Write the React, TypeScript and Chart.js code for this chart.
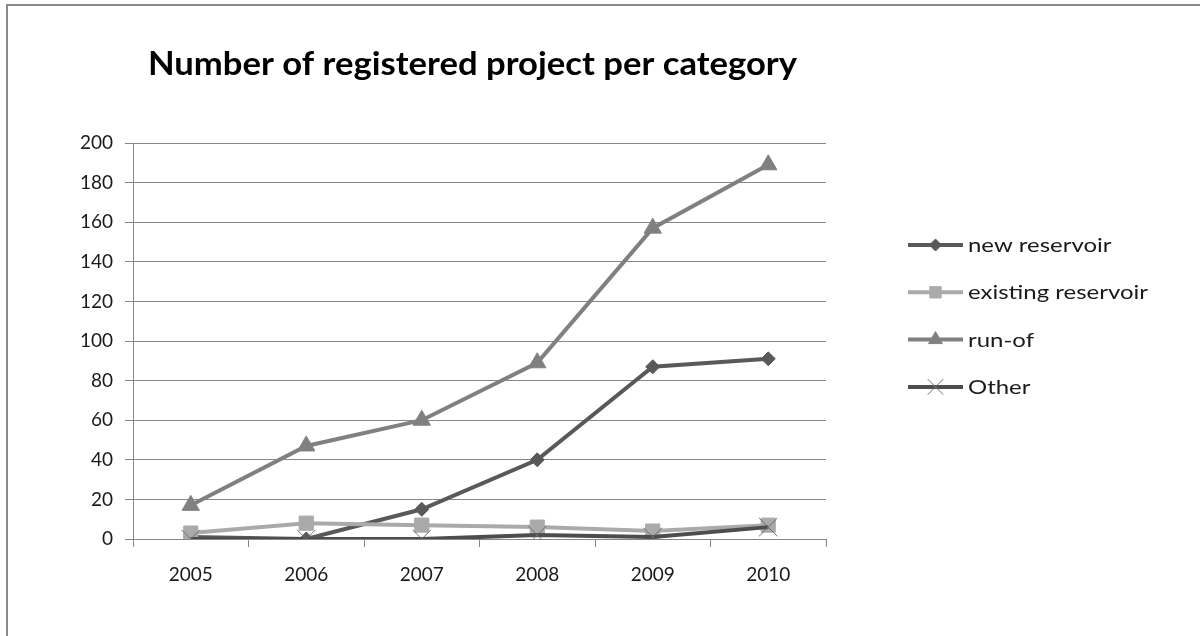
import React, { useEffect, useRef } from "react";
import { Chart, registerables } from "chart.js";
import { drawPoint } from "chart.js/helpers";

Chart.register(...registerables);

// Registered projects per year, by category
const years = ["2005", "2006", "2007", "2008", "2009", "2010"];
const newReservoir = [1, 0, 15, 40, 87, 91];
const existingReservoir = [3, 8, 7, 6, 4, 7];
const runOf = [17, 47, 60, 89, 157, 189];
const other = [0, 0, 0, 2, 1, 6];

const yTicks = { min: 0, max: 200, step: 20 };
const titleText = "Number of registered project per category";

const FONT = "Lato, 'Open Sans', sans-serif";

// Draws text stretched horizontally by a given factor
function fillStretched(ctx: CanvasRenderingContext2D, text: string, x: number, y: number, sx: number) {
  ctx.save();
  ctx.translate(x, y);
  ctx.scale(sx, 1);
  ctx.fillText(text, 0, 0);
  ctx.restore();
}

// Title above the plot and legend on the right: line segment with the series marker, then its label
const legendPlugin = {
  id: "sideLegend",
  afterDraw(chart: any) {
    const ctx: CanvasRenderingContext2D = chart.ctx;
    ctx.save();
    ctx.fillStyle = "#000";
    ctx.font = `bold 32px ${FONT}`;
    ctx.textBaseline = "alphabetic";
    ctx.textAlign = "left";
    const tw = ctx.measureText(titleText).width;
    fillStretched(ctx, titleText, 148, 75, 649 / tw);

    const x0 = 908;
    const x1 = 963;
    const y0 = 245;
    const gap = 47.3;
    ctx.font = `19px ${FONT}`;
    const labelScale = 180 / ctx.measureText("existing reservoir").width;
    chart.data.datasets.forEach((ds: any, i: number) => {
      const y = y0 + i * gap;
      ctx.strokeStyle = ds.borderColor;
      ctx.lineWidth = 4;
      ctx.lineCap = "butt";
      ctx.beginPath();
      ctx.moveTo(x0, y);
      ctx.lineTo(x1, y);
      ctx.stroke();
      ctx.fillStyle = ds.pointBackgroundColor;
      ctx.strokeStyle = ds.pointBorderColor;
      ctx.lineWidth = ds.pointBorderWidth;
      drawPoint(
        ctx,
        { pointStyle: ds.pointStyle, rotation: 0, radius: ds.legendRadius, borderWidth: ds.pointBorderWidth },
        (x0 + x1) / 2,
        y
      );
      ctx.fillStyle = "#1a1a1a";
      ctx.font = `19px ${FONT}`;
      ctx.textBaseline = "middle";
      fillStretched(ctx, ds.label, 968, y + 1, labelScale);
    });
    ctx.restore();
  },
};

export default function App() {
  const ref = useRef<HTMLCanvasElement | null>(null);

  useEffect(() => {
    if (!ref.current) return;
    const chart = new Chart(ref.current, {
      type: "line",
      data: {
        labels: years,
        datasets: [
          {
            label: "new reservoir",
            data: newReservoir,
            borderColor: "#595959",
            pointBackgroundColor: "#595959",
            pointBorderColor: "#595959",
            pointBorderWidth: 1,
            pointStyle: "rectRot",
            pointRadius: 7,
            legendRadius: 6,
            borderWidth: 4,
            order: 3,
          } as any,
          {
            label: "existing reservoir",
            data: existingReservoir,
            borderColor: "#aaaaaa",
            pointBackgroundColor: "#aaaaaa",
            pointBorderColor: "#aaaaaa",
            pointBorderWidth: 1,
            pointStyle: "rect",
            pointRadius: 10,
            legendRadius: 8,
            borderWidth: 4,
            order: 2,
          },
          {
            label: "run-of",
            data: runOf,
            borderColor: "#808080",
            pointBackgroundColor: "#808080",
            pointBorderColor: "#808080",
            pointBorderWidth: 1,
            pointStyle: "triangle",
            pointRadius: 10,
            legendRadius: 8,
            borderWidth: 4,
            order: 1,
          },
          {
            label: "Other",
            data: other,
            borderColor: "#4d4d4d",
            pointBackgroundColor: "#6e6e6e",
            pointBorderColor: "#6e6e6e",
            pointBorderWidth: 1,
            pointStyle: "crossRot",
            pointRadius: 13,
            legendRadius: 11,
            borderWidth: 4,
            order: 0,
          },
        ],
      },
      options: {
        animation: false,
        responsive: false,
        maintainAspectRatio: false,
        layout: { padding: { left: 0, top: 143, right: 374, bottom: 0 } },
        plugins: {
          legend: { display: false },
          title: { display: false },
          tooltip: { enabled: false },
        },
        elements: { line: { tension: 0 } },
        scales: {
          x: {
            offset: true,
            afterFit: (s: any) => {
              s.height = 97;
            },
            grid: {
              offset: true,
              drawOnChartArea: false,
              drawTicks: true,
              tickLength: 8,
              color: "#878787",
            },
            border: { display: true, color: "#878787", width: 1 },
            ticks: {
              color: "#1a1a1a",
              font: { family: FONT, size: 19 },
              padding: 16,
              maxRotation: 0,
            },
          },
          y: {
            min: yTicks.min,
            max: yTicks.max,
            afterFit: (s: any) => {
              s.width = 133;
            },
            grid: {
              color: "#878787",
              tickLength: 8,
              lineWidth: 1,
            },
            border: { display: true, color: "#878787", width: 1 },
            ticks: {
              stepSize: yTicks.step,
              color: "#1a1a1a",
              font: { family: FONT, size: 19 },
              padding: 12,
            },
          },
        },
      },
      plugins: [legendPlugin],
    });
    return () => chart.destroy();
  }, []);

  return (
    <div style={{ position: "absolute", left: 0, top: 0, width: 1200, height: 636, overflow: "hidden", background: "#fff" }}>
      <div
        style={{
          position: "absolute",
          left: 6,
          top: 4,
          width: 1300,
          height: 700,
          borderTop: "2px solid #8a8a8a",
          borderLeft: "2px solid #8a8a8a",
        }}
      />
      <canvas ref={ref} width={1200} height={636} style={{ position: "absolute", left: 0, top: 0, width: 1200, height: 636 }} />
    </div>
  );
}
